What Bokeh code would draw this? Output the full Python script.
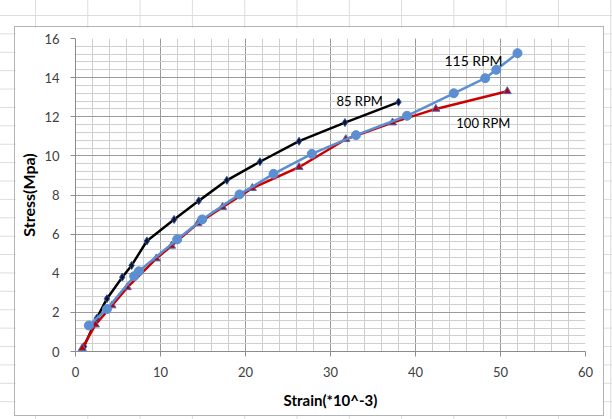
from bokeh.plotting import figure
from bokeh.models import Range1d, SingleIntervalTicker, Label
from bokeh.layouts import column
from bokeh.embed import file_html
from bokeh.resources import INLINE

# ---- data ----
strain_85 = [1.0, 2.5, 3.7, 5.5, 6.6, 8.4, 11.6, 14.5, 17.8, 21.7, 26.3, 31.7, 38.0]
stress_85 = [0.25, 1.7, 2.7, 3.8, 4.4, 5.65, 6.75, 7.7, 8.75, 9.7, 10.75, 11.7, 12.75]

strain_100 = [0.8, 2.35, 4.3, 6.1, 9.5, 11.3, 14.4, 17.3, 20.8, 26.3, 31.8, 37.3, 42.4, 50.8]
stress_100 = [0.17, 1.37, 2.35, 3.28, 4.75, 5.4, 6.55, 7.38, 8.35, 9.42, 10.85, 11.7, 12.4, 13.3]

strain_115 = [1.57, 3.7, 6.9, 7.45, 11.96, 14.9, 19.3, 23.3, 27.8, 33.0, 39.0, 44.5, 48.2, 49.5, 52.0]
stress_115 = [1.33, 2.17, 3.85, 4.1, 5.73, 6.75, 8.03, 9.08, 10.1, 11.06, 12.05, 13.2, 13.97, 14.4, 15.25]

series_labels = ["85 RPM", "100 RPM", "115 RPM"]
x_title = "Strain(*10^-3)"
y_title = "Stress(Mpa)"

FONT = "Lato"

p = figure(width=588, height=388, output_backend="svg", toolbar_location=None,
           x_range=Range1d(0, 60), y_range=Range1d(0, 16),
           min_border_left=60, min_border_right=18, min_border_top=11, min_border_bottom=64)

p.border_fill_color = "white"
p.background_fill_color = "white"
p.outline_line_color = None
p.margin = (27, 0, 0, 15)
p.styles = {"outline": "1px solid #b4b4b4"}

# axes / ticks
p.xaxis.ticker = SingleIntervalTicker(interval=10, num_minor_ticks=5)
p.yaxis.ticker = SingleIntervalTicker(interval=2, num_minor_ticks=5)
for ax in (p.xaxis[0], p.yaxis[0]):
    ax.axis_line_color = "#8c8c8c"
    ax.major_tick_line_color = "#8c8c8c"
    ax.major_tick_out = 5
    ax.major_tick_in = 0
    ax.minor_tick_out = 0
    ax.minor_tick_in = 0
    ax.major_label_text_font = FONT
    ax.major_label_text_font_size = "13px"
    ax.major_label_text_color = "#404040"
    ax.axis_label_text_font = FONT
    ax.axis_label_text_font_style = "bold"
    ax.axis_label_text_color = "#000000"

p.xaxis.major_label_standoff = 10
p.yaxis.major_label_standoff = 11
p.xaxis.axis_label = x_title
p.yaxis.axis_label = y_title
p.xaxis.axis_label_text_font_size = "15px"
p.yaxis.axis_label_text_font_size = "16px"
p.xaxis.axis_label_standoff = 11
p.yaxis.axis_label_standoff = 3

# grids
for g in (p.xgrid[0], p.ygrid[0]):
    g.grid_line_color = "#9a9a9a"
    g.grid_line_width = 1
    g.minor_grid_line_color = "#cfcfcf"
    g.minor_grid_line_width = 1

# series
p.line(strain_85, stress_85, line_color="#000000", line_width=2.5)
p.scatter(strain_85, stress_85, marker="diamond", size=8, fill_color="#111133",
          line_color="#2f5597", line_width=1)

p.line(strain_100, stress_100, line_color="#cc0000", line_width=2.5)
p.scatter(strain_100, stress_100, marker="triangle", size=8, fill_color="#c00000",
          line_color="#4472c4", line_width=1)

p.line(strain_115, stress_115, line_color="#5b8fd2", line_width=2.5)
p.scatter(strain_115, stress_115, marker="circle", size=9, fill_color="#5b8fd2",
          line_color="#5b8fd2", line_width=1)

# series labels
p.add_layout(Label(x=30.7, y=12.82, text=series_labels[0], text_font=FONT,
                   text_font_size="13px", text_baseline="middle", text_color="#000000"))
p.add_layout(Label(x=44.8, y=11.69, text=series_labels[1], text_font=FONT,
                   text_font_size="13px", text_baseline="middle", text_color="#000000"))
p.add_layout(Label(x=43.4, y=14.87, text=series_labels[2], text_font=FONT,
                   text_font_size="14px", text_baseline="middle", text_color="#000000"))

page = column(p, width=612, height=419, styles={
    "background-color": "white",
    "background-image": "linear-gradient(to right, #dcdcdc 1px, transparent 1px), "
                        "linear-gradient(to bottom, #dcdcdc 1px, transparent 1px)",
    "background-size": "52.3px 18.4px",
    "background-position": "35px 15px",
})

open("out.html", "w").write(file_html(page, INLINE))
